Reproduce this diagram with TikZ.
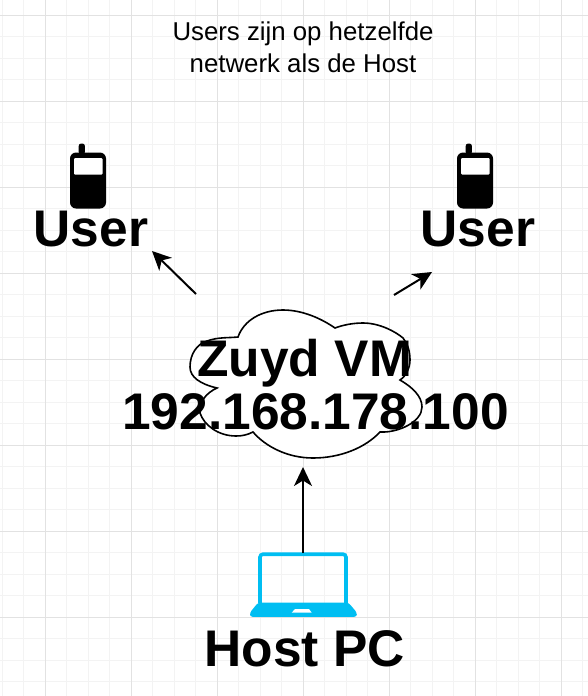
\documentclass[tikz,border=0pt]{standalone}
\usepackage{xcolor}
\usepackage{fontspec}
\setmainfont{Liberation Sans}
\usetikzlibrary{arrows.meta, positioning}
\definecolor{gridmajor}{HTML}{E2E2E2}
\definecolor{gridminor}{HTML}{F3F3F3}
\definecolor{laptopblue}{HTML}{00BEF2}
\tikzstyle{biglabel} = [inner sep=0pt, font=\fontsize{51.5}{53.5}\selectfont\bfseries, text=black]
\tikzstyle{note} = [inner sep=0pt, font=\fontsize{25.8}{31.5}\selectfont, align=center, text=black]
\tikzstyle{arrow} = [line width=2pt,-{Stealth[length=19pt,width=18pt,inset=5.5pt]}]
\tikzset{phone/.pic={
    \fill[black, rounded corners=2.5pt] (8.7,-9) rectangle (14.9,2);
    \fill[black, rounded corners=6pt] (0,0) rectangle (36,56);
    \fill[white, rounded corners=1pt] (4,5.5) rectangle (32.5,22);
}}
\begin{document}
\begin{tikzpicture}[x=1pt, y=-1pt, >=Stealth]
    \useasboundingbox (0,0) rectangle (588,696);

    % Grid
    \foreach \i in {0,...,27} {
        \draw [gridminor, line width=0.8pt] (2+21.5*\i,0) -- (2+21.5*\i,696);
    }
    \foreach \i in {0,...,32} {
        \draw [gridminor, line width=0.8pt] (0,-6.5+21.5*\i) -- (588,-6.5+21.5*\i);
    }
    \foreach \i in {0,...,6} {
        \draw [gridmajor, line width=0.8pt] (45+86*\i,0) -- (45+86*\i,696);
    }
    \foreach \i in {0,...,7} {
        \draw [gridmajor, line width=0.8pt] (0,15+86*\i) -- (588,15+86*\i);
    }

    % Cloud
    \draw [black, fill=white, line width=1.6pt] (238,337)
        .. controls (244,320) and (262,310) .. (283,310)
        .. controls (303,310) and (322,319) .. (335,328)
        .. controls (343,325) and (353,323) .. (363,323)
        .. controls (380,323) and (396,332) .. (403,338)
        .. controls (408,344) and (410,352) .. (410,360)
        .. controls (410,368) and (406,376) .. (400,380)
        .. controls (412,387) and (422,396) .. (422,407)
        .. controls (422,422) and (398,433) .. (380,432)
        .. controls (365,448) and (340,458) .. (313,458)
        .. controls (288,458) and (266,447) .. (253,432)
        .. controls (247,435) and (242,436) .. (236,436)
        .. controls (218,436) and (204,425) .. (200,413)
        .. controls (199,402) and (206,393) .. (217,388)
        .. controls (200,384) and (190,377) .. (190,367)
        .. controls (190,354) and (197,344) .. (207,341)
        .. controls (218,337) and (228,338) .. (238,337) -- cycle;

    % Laptop
    \draw [laptopblue, line width=3.6pt, rounded corners=3pt] (260,603) -- (260,554.2) -- (346,554.2) -- (346,603);
    \fill [laptopblue, rounded corners=2.5pt] (258,602.7) -- (348.5,602.7) -- (356.8,612.5) -- (356.8,616.8) -- (250,616.8) -- (250,612.5) -- cycle;
    \fill [white] (295,609) -- (309,609) -- (311.7,612.7) -- (291.7,612.7) -- cycle;

    % Phones
    \pic at (70,152.5) {phone};
    \pic at (457,152.5) {phone};

    % Labels
    \node (usernote) [note] at (303,47.5) {Users zijn op hetzelfde\\netwerk als de Host};
    \node (userleft) [biglabel, anchor=base] at (91,246.7) {User};
    \node (userright) [biglabel, anchor=base] at (478,246.7) {User};
    \node (vmname) [biglabel, anchor=base] at (304.7,376) {Zuyd VM};
    \node (vmip) [biglabel, anchor=base] at (315.5,429.3) {192.168.178.100};
    \node (host) [biglabel, anchor=base] at (304.5,666) {Host PC};
    \coordinate (laptop) at (303,553);

    % Free ends of the arrows
    \coordinate (cloudleft) at (196,294);
    \coordinate (cloudright) at (394,295);
    \coordinate (cloudbottom) at (303,467);
    \coordinate (tipleft) at (152,251);
    \coordinate (tipright) at (432,272);

    % Arrows
    \draw [arrow] (cloudleft) -- (tipleft);
    \draw [arrow] (cloudright) -- (tipright);
    \draw [arrow] (laptop) -- (cloudbottom);

\end{tikzpicture}
\end{document}
